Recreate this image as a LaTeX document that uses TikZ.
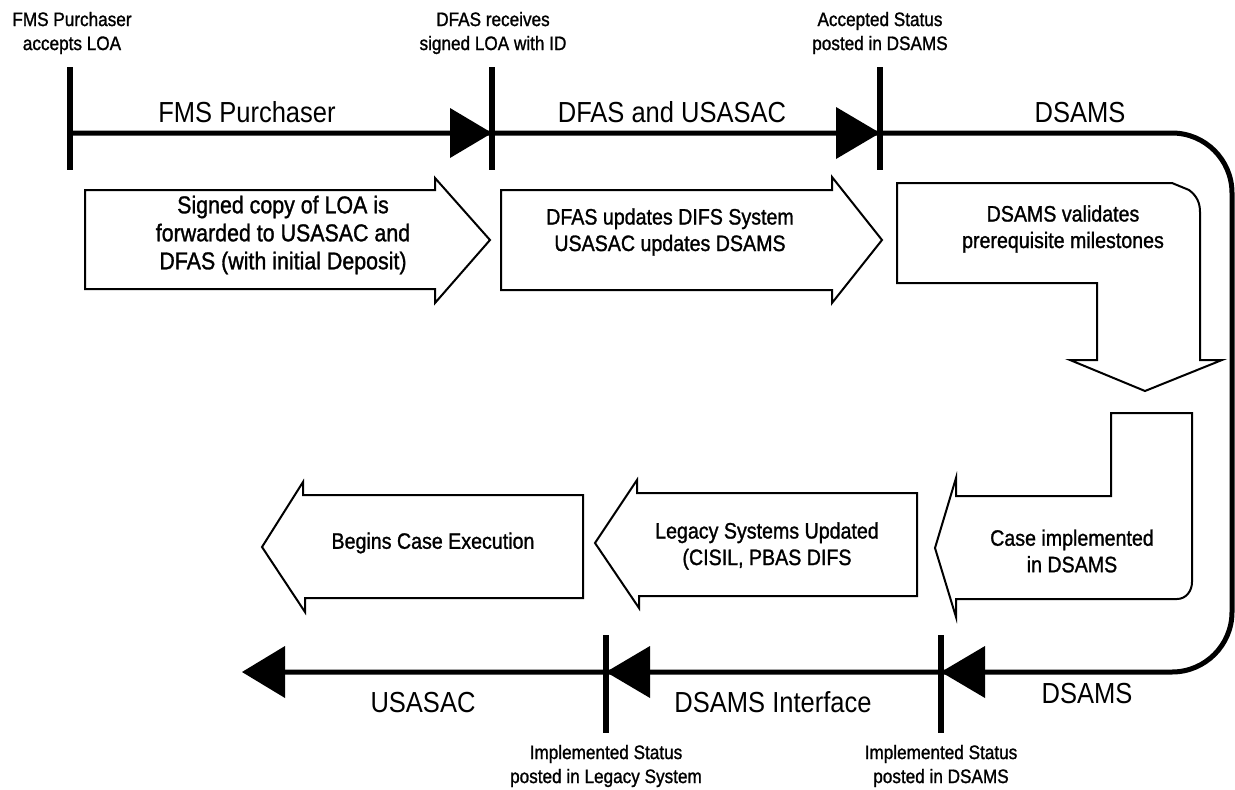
\documentclass[tikz,border=0pt]{standalone}
\usepackage{fontspec}
\setmainfont{Liberation Sans}[FakeStretch=0.88]
\newfontfamily\medfont{Liberation Sans}[FakeStretch=0.88, FakeBold=1.2]
\begin{document}
\begin{tikzpicture}[x=1pt,y=-1pt,
  timeline/.style={line width=5pt},
  tickmark/.style={line width=5.5pt},
  shapebox/.style={draw, line width=2pt, line join=miter, fill=white},
  boxtext/.style={align=center, font=\medfont\fontsize{22.3}{26.5}\selectfont},
  bigboxtext/.style={align=center, font=\medfont\fontsize{24.3}{28}\selectfont},
  phase/.style={anchor=base, font=\fontsize{29}{34}\selectfont},
  event/.style={align=center, font=\medfont\fontsize{19.5}{24}\selectfont}]
\useasboundingbox (0,0) rectangle (1235,790);

% timeline coordinates
\coordinate (tA) at (70,133);
\coordinate (tB) at (492,133);
\coordinate (tC) at (880,133);
\coordinate (kR1) at (1232,133);
\coordinate (kR2) at (1232,672);
\coordinate (bA) at (941,672);
\coordinate (bB) at (606,672);
\coordinate (bEnd) at (242,672);
\coordinate (bBase) at (282,672);

% timeline line
\draw[timeline] (tA) -- (tB) -- (tC) [rounded corners=60pt] -- (kR1) -- (kR2) -- (bA) [sharp corners] -- (bB) -- (bBase);

% ticks
\draw[tickmark] (tA) ++(0,-66) -- ++(0,103);
\draw[tickmark] (tB) ++(0,-66) -- ++(0,103);
\draw[tickmark] (tC) ++(0,-66) -- ++(0,103);
\draw[tickmark] (bA) ++(0,-37) -- ++(0,98);
\draw[tickmark] (bB) ++(0,-37) -- ++(0,98);

% arrowheads
\fill (tB) -- ++(-42,-25) -- ++(0,50) -- cycle;
\fill (tC) -- ++(-44,-26) -- ++(0,52) -- cycle;
\fill (bA) -- ++(44,-26) -- ++(0,52) -- cycle;
\fill (bB) -- ++(44,-26) -- ++(0,52) -- cycle;
\fill (bEnd) -- ++(43,-26) -- ++(0,52) -- cycle;

% phase labels
\node[phase] (pFMS) at (247,122) {FMS Purchaser};
\node[phase] (pDFAS) at (672,122) {DFAS and USASAC};
\node[phase] (pDSAMS1) at (1080,122) {DSAMS};
\node[phase] (pDSAMS2) at (1087,703) {DSAMS};
\node[phase] (pIface) at (773,712) {DSAMS Interface};
\node[phase] (pUSASAC) at (423,712) {USASAC};

% event labels
\node[event] (eA) at (72,33) {FMS Purchaser\\accepts LOA};
\node[event] (eB) at (493,33) {DFAS receives\\signed LOA with ID};
\node[event] (eC) at (880,33) {Accepted Status\\posted in DSAMS};
\node[event] (eD) at (606,766) {Implemented Status\\posted in Legacy System};
\node[event] (eE) at (941,766) {Implemented Status\\posted in DSAMS};

% block arrows
\draw[shapebox] (85,190) -- (435,190) -- (435,178) -- (490,240) -- (435,303) -- (435,289) -- (85,289) -- cycle;
\draw[shapebox] (501,190) -- (832,190) -- (832,177) -- (882,240) -- (832,303) -- (832,290) -- (501,290) -- cycle;
\draw[shapebox] (897,183) -- (1172,183) -- (1189,190) .. controls (1197,196) and (1200,203) .. (1200,212)
  -- (1200,360) -- (1222,360) -- (1145,391) -- (1070,360) -- (1097,360) -- (1097,283) -- (897,283) -- cycle;
\draw[shapebox] (1111,413) -- (1192,413) -- (1192,582) .. controls (1192,591) and (1186,599) .. (1177,599)
  -- (956,599) -- (956,617) -- (935,548) -- (956,478) -- (956,496) -- (1111,496) -- cycle;
\draw[shapebox] (595,543) -- (637,480) -- (637,493) -- (917,493) -- (917,596) -- (639,596) -- (639,608) -- cycle;
\draw[shapebox] (262,547) -- (303,482) -- (303,495) -- (583,495) -- (583,598) -- (305,598) -- (305,612) -- cycle;

% block texts
\node[bigboxtext] (x1) at (283,235) {Signed copy of LOA is\\forwarded to USASAC and\\DFAS (with initial Deposit)};
\node[boxtext] (x2) at (670,232) {DFAS updates DIFS System\\USASAC updates DSAMS};
\node[boxtext] (x3) at (1063,229) {DSAMS validates\\prerequisite milestones};
\node[boxtext] (x4) at (1072,551) {Case implemented\\in DSAMS};
\node[boxtext] (x5) at (767,546) {Legacy Systems Updated\\(CISIL, PBAS DIFS};
\node[boxtext] (x6) at (433,543) {Begins Case Execution};
\end{tikzpicture}
\end{document}
